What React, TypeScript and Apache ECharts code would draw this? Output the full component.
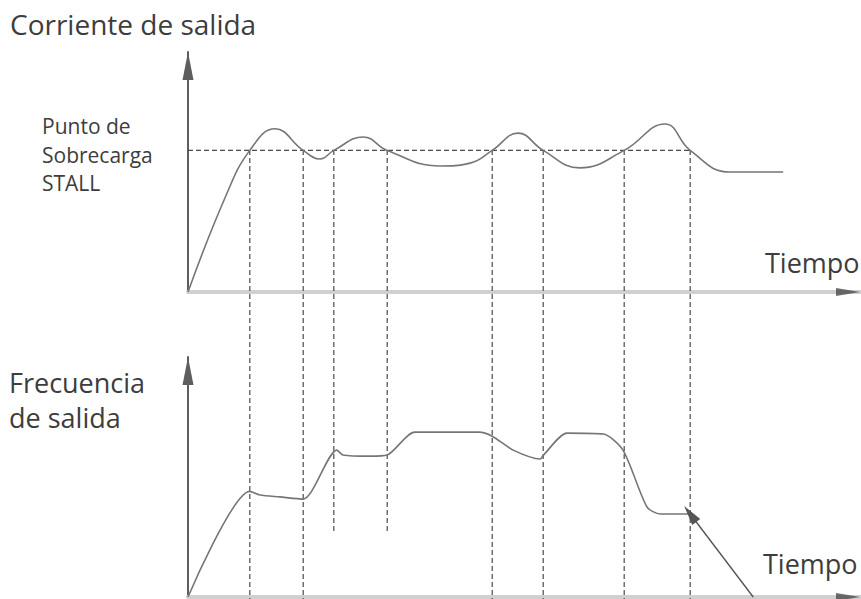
import React, { useEffect, useRef } from "react";
import * as echarts from "echarts";

// Time axis: 0..112 units (arbitrary time), values 0..100 (relative level)
const T_MAX = 112;
const STALL = 59;

// Output current (top panel): [time, level]
const currentCurve: [number, number][] = [
  [0, 0], [6.3, 40], [10.3, 59],
  [14.5, 68], [19.2, 59], [22, 55.4], [24.3, 59], [29.2, 64.6], [33.2, 59],
  [42, 52.5], [47, 53.7], [50.7, 59], [55, 66.2], [59.2, 59], [65.3, 51.7],
  [72.7, 59], [79.5, 70], [83.7, 59], [90.3, 50], [99.2, 50],
];

// Output frequency (bottom panel): [time, level]
const frequencyCurve: [number, number][] = [
  [0, 0], [10.3, 44], [12, 42.5], [15.3, 41.7], [19.2, 40.8], [24.8, 61.2],
  [25.8, 59.2], [30.3, 58.7], [33.2, 59.2], [37.8, 68.7], [48.5, 68.7],
  [50.7, 67], [54.2, 61.2], [58.7, 57.5], [59.2, 59], [63.2, 68.3], [69.2, 67.9],
  [72.5, 61.2], [76.5, 37.5], [78.7, 34.6], [83.7, 34.6],
];
// Final deceleration ramp (with arrow head at its start)
const rampStart: [number, number] = [83.7, 34.6];
const rampEnd: [number, number] = [94.2, 0];

// Stall crossing instants: [time, lower end of guide (0 = page bottom)]
const crossings: [number, number][] = [
  [10.3, 0], [19.2, 0], [24.3, 15], [33.2, 15], [50.7, 0], [59.2, 0], [72.7, 0], [83.7, 0],
];

const labelsTop = ["Corriente de salida"];
const stallLabel = ["Punto de", "Sobrecarga", "STALL"];
const freqLabel = ["Frecuencia", "de salida"];
const timeLabel = "Tiempo";

const CURVE = "#767676";
const DASH = "#4a4a4a";
const TEXT = "#3d3d3d";
const FONT = "'Open Sans', sans-serif";

export default function App() {
  const ref = useRef<HTMLDivElement>(null);
  useEffect(() => {
    if (!ref.current) return;
    const chart = echarts.init(ref.current, undefined, { renderer: "svg" });

    const xAxisBase = (gridIndex: number, show: boolean) => ({
      type: "value" as const,
      gridIndex,
      min: 0,
      max: T_MAX,
      show,
      axisLine: { show, lineStyle: { color: "#d0d0d0", width: 4 } },
      axisTick: { show: false },
      axisLabel: { show: false },
      splitLine: { show: false },
    });
    const yAxisBase = (gridIndex: number, show: boolean) => ({
      type: "value" as const,
      gridIndex,
      min: 0,
      max: 100,
      show,
      axisLine: {
        show,
        onZero: false,
        symbol: ["none", "triangle"],
        symbolSize: [11, 28],
        symbolOffset: [0, -14],
        lineStyle: { color: "#5e5e5e", width: 2 },
      },
      axisTick: { show: false },
      axisLabel: { show: false },
      splitLine: { show: false },
    });

    const guideSeries = crossings.map(([t, low], i) => ({
      type: "line" as const,
      name: "guide" + i,
      xAxisIndex: 2,
      yAxisIndex: 2,
      data: [[t, 100], [t, low]],
      symbol: "none",
      silent: true,
      lineStyle: { color: DASH, width: 1.2, type: [5, 3] },
      z: 1,
    }));

    const text = (t: string, x: number, y: number, size: number) => ({
      type: "text" as const,
      x,
      y,
      style: {
        text: t,
        fill: TEXT,
        font: `${size}px ${FONT}`,
        verticalAlign: "middle",
        align: "left",
      },
    });

    const xArrow = (idx: number) => ({
      type: "scatter" as const,
      name: "xArrow" + idx,
      xAxisIndex: idx,
      yAxisIndex: idx,
      data: [[110, 0]],
      symbol: "triangle",
      symbolSize: [8, 24],
      symbolRotate: -90,
      itemStyle: { color: "#4a4a4a" },
      silent: true,
      z: 4,
    });

    chart.setOption({
      animation: false,
      backgroundColor: "#ffffff",
      grid: [
        { left: 188, top: 52, width: 672, height: 240 },
        { left: 188, top: 357, width: 672, height: 240 },
        { left: 188, top: 150, width: 672, height: 449 },
      ],
      xAxis: [xAxisBase(0, true), xAxisBase(1, true), xAxisBase(2, false)],
      yAxis: [yAxisBase(0, true), yAxisBase(1, true), yAxisBase(2, false)],
      series: [
        ...guideSeries,
        {
          type: "line",
          name: "stall",
          xAxisIndex: 0,
          yAxisIndex: 0,
          data: [[0, STALL], [crossings[crossings.length - 1][0], STALL]],
          symbol: "none",
          lineStyle: { color: DASH, width: 1.2, type: [5, 3] },
          z: 2,
        },
        {
          type: "line",
          name: "current",
          xAxisIndex: 0,
          yAxisIndex: 0,
          data: currentCurve,
          smooth: 0.45,
          symbol: "none",
          lineStyle: { color: CURVE, width: 1.6 },
          z: 3,
        },
        {
          type: "line",
          name: "frequency",
          xAxisIndex: 1,
          yAxisIndex: 1,
          data: frequencyCurve,
          smooth: 0.25,
          symbol: "none",
          lineStyle: { color: CURVE, width: 1.6 },
          z: 3,
          markLine: {
            silent: true,
            symbol: ["triangle", "none"],
            symbolSize: [10, 20],
            label: { show: false },
            lineStyle: { color: "#555555", width: 1.4, type: "solid" },
            data: [[{ coord: rampStart }, { coord: rampEnd }]],
          },
        },
        xArrow(0),
        xArrow(1),
      ],
      graphic: [
        text(labelsTop[0], 10, 24, 28),
        text(stallLabel[0], 42, 126, 21),
        text(stallLabel[1], 42, 155, 21),
        text(stallLabel[2], 42, 183, 21),
        text(timeLabel, 765, 262, 27),
        text(freqLabel[0], 9, 382, 27),
        text(freqLabel[1], 9, 417, 27),
        text(timeLabel, 763, 563, 27),
      ],
    });
    return () => chart.dispose();
  }, []);
  return <div ref={ref} style={{ width: 861, height: 599, position: "fixed", left: 0, top: 0 }} />;
}
